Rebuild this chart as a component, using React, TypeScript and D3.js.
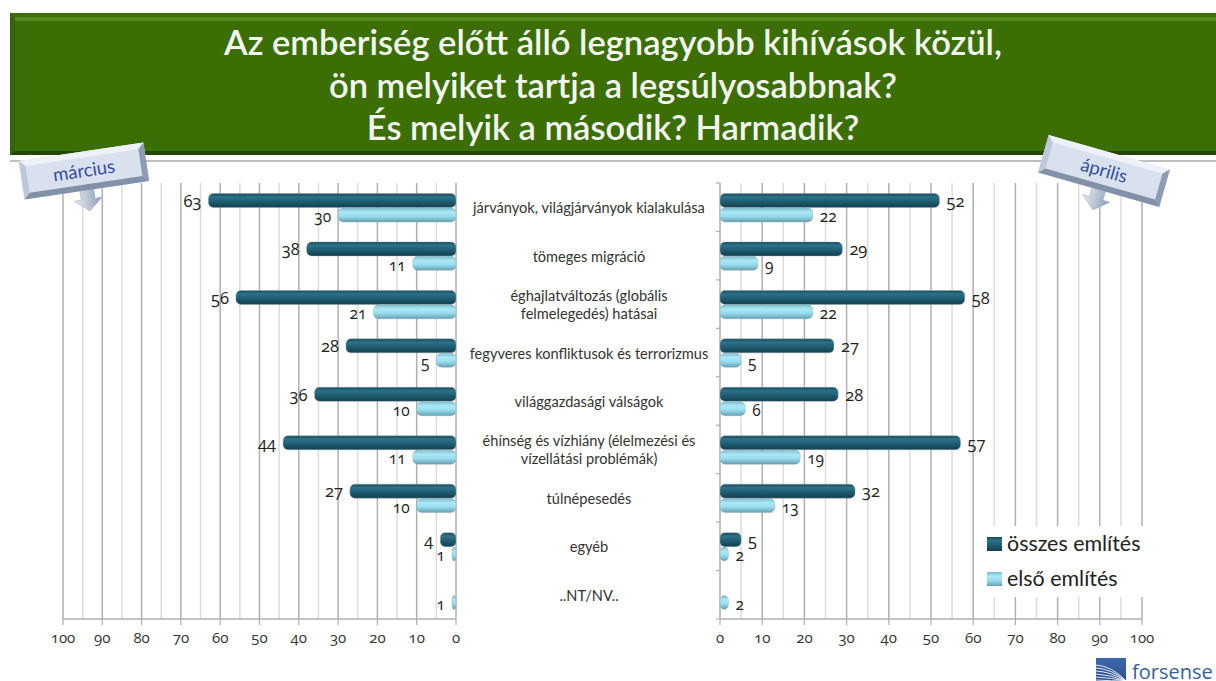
import React from "react";
import * as d3 from "d3";

const categories: string[][] = [
  ["járványok, világjárványok kialakulása"],
  ["tömeges migráció"],
  ["éghajlatváltozás (globális", "felmelegedés) hatásai"],
  ["fegyveres konfliktusok és terrorizmus"],
  ["világgazdasági válságok"],
  ["éhínség és vízhiány (élelmezési és", "vízellátási problémák)"],
  ["túlnépesedés"],
  ["egyéb"],
  ["..NT/NV.."],
];
const marchTotal: (number | null)[] = [63, 38, 56, 28, 36, 44, 27, 4, null];
const marchFirst: (number | null)[] = [30, 11, 21, 5, 10, 11, 10, 1, 1];
const aprilTotal: (number | null)[] = [52, 29, 58, 27, 28, 57, 32, 5, null];
const aprilFirst: (number | null)[] = [22, 9, 22, 5, 6, 19, 13, 2, 2];
const titleLines = [
  "Az emberiség előtt álló legnagyobb kihívások közül,",
  "ön melyiket tartja a legsúlyosabbnak?",
  "És melyik a második? Harmadik?",
];
const seriesNames = ["összes említés", "első említés"];
const gridValues = d3.range(0, 101, 5);
const tickValues = d3.range(0, 101, 10);

const font = "Lato, 'Open Sans', sans-serif";
const numFont = "'Open Sans', Lato, sans-serif";
const top = 183;
const bottom = 619;
const xL = d3.scaleLinear().domain([0, 100]).range([456, 63]);
const xR = d3.scaleLinear().domain([0, 100]).range([720, 1142]);
const band = d3.scaleBand<number>().domain(d3.range(9)).range([top, bottom]);
const barH = 14;

function Bar({ x0, x1, y, fill }: { x0: number; x1: number; y: number; fill: string }) {
  const x = Math.min(x0, x1);
  const w = Math.abs(x1 - x0);
  return <rect x={x} y={y} width={w} height={barH} rx={Math.min(5, w / 2)} ry={5} fill={fill} stroke="#8fa6ae" strokeWidth={0.4} filter="url(#soft)" />;
}

function Panel({ x, total, first, side }: { x: d3.ScaleLinear<number, number>; total: (number | null)[]; first: (number | null)[]; side: number }) {
  const [r0] = x.range();
  return (
    <g>
      {gridValues.map((v) => (
        <line key={v} x1={x(v)} x2={x(v)} y1={top} y2={bottom} stroke={v % 10 === 0 ? "#b0b0b0" : "#dcdcdc"} strokeWidth={1.5} />
      ))}
      <line x1={x(0)} x2={x(100)} y1={bottom} y2={bottom} stroke="#b0b0b0" strokeWidth={1.5} />
      {tickValues.map((v) => (
        <g key={v}>
          <line x1={x(v)} x2={x(v)} y1={bottom} y2={bottom + 6} stroke="#b0b0b0" strokeWidth={1.2} />
          <text x={x(v)} y={643} textAnchor="middle" fontFamily={numFont} fontSize={15} fill="#333" style={{ fontFeatureSettings: "'onum'" }}>{v}</text>
        </g>
      ))}
      {side > 0 && band.domain().concat([9]).map((i) => {
        const y = top + i * band.step();
        return <line key={i} x1={716} x2={720} y1={y} y2={y} stroke="#b0b0b0" strokeWidth={1.2} />;
      })}
      {band.domain().map((i) => {
        const c = band(i)! + band.bandwidth() / 2;
        const t = total[i];
        const f = first[i];
        return (
          <g key={i}>
            {t != null && <Bar x0={r0} x1={x(t)} y={c - barH + 0.3} fill="url(#dark)" />}
            {f != null && <Bar x0={r0} x1={x(f)} y={c + 0.7} fill="url(#light)" />}
            {t != null && (
              <text x={x(t) + side * 7} y={c - 0.5} textAnchor={side > 0 ? "start" : "end"} fontFamily={numFont} fontSize={16.5} fill="#222" style={{ fontFeatureSettings: "'onum'" }}>{t}</text>
            )}
            {f != null && (
              <text x={x(f) + side * 7} y={c + 15} textAnchor={side > 0 ? "start" : "end"} fontFamily={numFont} fontSize={15.5} fill="#222" style={{ fontFeatureSettings: "'onum'" }}>{f}</text>
            )}
          </g>
        );
      })}
    </g>
  );
}

function Callout({ cx, cy, angle, label }: { cx: number; cy: number; angle: number; label: string }) {
  const w = 126, h = 39, b = 6;
  const hw = w / 2, hh = h / 2;
  return (
    <g transform={`translate(${cx},${cy}) rotate(${angle})`}>
      <path d={`M-7,${hh - 2}H7V${hh + 9}H14L0,${hh + 21}L-14,${hh + 9}H-7Z`} fill="url(#arrow)" stroke="#9aa8bf" strokeWidth={0.5} />
      <rect x={-hw} y={-hh} width={w} height={h} fill="#d9e1ef" />
      <polygon points={`${-hw},${-hh} ${hw},${-hh} ${hw - b},${-hh + b} ${-hw + b},${-hh + b}`} fill="#eef2f8" />
      <polygon points={`${-hw},${-hh} ${-hw + b},${-hh + b} ${-hw + b},${hh - b} ${-hw},${hh}`} fill="#bcc8db" />
      <polygon points={`${hw},${-hh} ${hw - b},${-hh + b} ${hw - b},${hh - b} ${hw},${hh}`} fill="#8f9db4" />
      <polygon points={`${-hw},${hh} ${-hw + b},${hh - b} ${hw - b},${hh - b} ${hw},${hh}`} fill="#8391a8" />
      <text x={0} y={6} textAnchor="middle" fontFamily={font} fontSize={18.5} fill="#34509f">{label}</text>
    </g>
  );
}

const logoArcs = [0, 1, 2, 3, 4, 5];

export default function App() {
  return (
    <svg width={1216} height={681} style={{ position: "fixed", left: 0, top: 0, background: "#fff" }}>
      <defs>
        <filter id="soft" x="-5%" y="-20%" width="110%" height="140%">
          <feGaussianBlur stdDeviation="0.35" />
        </filter>
        <linearGradient id="dark" x1="0" x2="0" y1="0" y2="1">
          <stop offset="0" stopColor="#174a5c" />
          <stop offset="0.25" stopColor="#2e7188" />
          <stop offset="0.55" stopColor="#205f73" />
          <stop offset="1" stopColor="#133f4e" />
        </linearGradient>
        <linearGradient id="light" x1="0" x2="0" y1="0" y2="1">
          <stop offset="0" stopColor="#7dbdce" />
          <stop offset="0.3" stopColor="#abe8f6" />
          <stop offset="0.6" stopColor="#98ddee" />
          <stop offset="1" stopColor="#659fb0" />
        </linearGradient>
        <linearGradient id="arrow" x1="0" x2="1" y1="0" y2="0">
          <stop offset="0" stopColor="#e6ebf4" />
          <stop offset="1" stopColor="#8d9cb6" />
        </linearGradient>
        <linearGradient id="logo" x1="0" x2="0" y1="0" y2="1">
          <stop offset="0" stopColor="#3f68ad" />
          <stop offset="1" stopColor="#2b4f8e" />
        </linearGradient>
      </defs>

      <rect x={10} y={13} width={1206} height={142} fill="#3c6e06" />
      <polygon points="15,17 1216,17 1216,21 15,21" fill="#54891f" />
      <polygon points="10,13 15,17 15,151 10,155" fill="#35620a" />
      <polygon points="10,155 15,151 1216,151 1216,155" fill="#264604" />
      <rect x={10} y={160} width={1206} height={2} fill="#bfbfbf" />
      {titleLines.map((t, i) => (
        <text key={i} x={613} y={55 + i * 42.5} textAnchor="middle" fontFamily={font} fontSize={34.5} fontWeight={600} fill="#f4f7f0">{t}</text>
      ))}

      <Panel x={xL} total={marchTotal} first={marchFirst} side={-1} />
      <Panel x={xR} total={aprilTotal} first={aprilFirst} side={1} />

      {categories.map((lines, i) => {
        const c = band(i)! + band.bandwidth() / 2;
        return lines.map((l, j) => (
          <text key={j} x={589} y={c + 6 + (j - (lines.length - 1) / 2) * 18} textAnchor="middle" fontFamily={font} fontSize={14.6} fill="#333">{l}</text>
        ));
      })}

      <rect x={976} y={526} width={172} height={71} fill="#fff" />
      {seriesNames.map((s, i) => (
        <g key={s}>
          <rect x={987} y={537 + i * 35} width={15} height={14} fill={i === 0 ? "url(#dark)" : "url(#light)"} />
          <text x={1007} y={551 + i * 35} fontFamily={font} fontSize={21.4} fill="#222">{s}</text>
        </g>
      ))}

      <Callout cx={84} cy={171} angle={-8.5} label="március" />
      <Callout cx={1104} cy={171} angle={15.8} label="április" />

      <rect x={1096} y={658} width={30} height={23} fill="url(#logo)" />
      {logoArcs.map((i) => (
        <path key={i} d={`M1096,${665 + i * 3} Q${1112},${666 + i * 3} ${1126},${681}`} fill="none" stroke="#fff" strokeWidth={1} opacity={0.85} />
      ))}
      <text x={1132} y={679} fontFamily="'Open Sans', sans-serif" fontSize={20} fill="#3b5f95">forsense</text>
    </svg>
  );
}
